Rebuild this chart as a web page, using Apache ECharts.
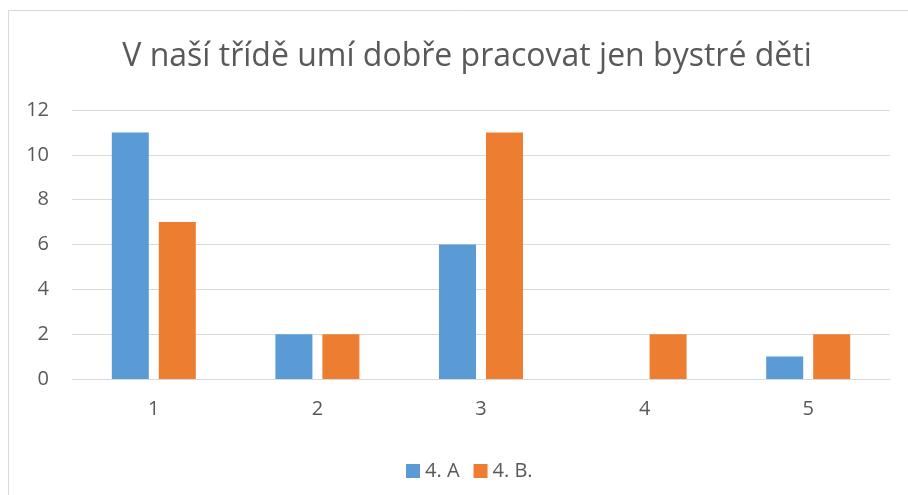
<!DOCTYPE html>
<html><head><meta charset="utf-8">
<script src="https://cdn.jsdelivr.net/npm/echarts@6/dist/echarts.min.js"></script>
<style>html,body{margin:0;padding:0;background:#fff}#c{width:908px;height:495px}</style>
</head><body><div id="c"></div>
<script>
var categories = ['1', '2', '3', '4', '5'];
var seriesA = [11, 2, 6, 0, 1];
var seriesB = [7, 2, 11, 2, 2];
var yTicks = [0, 2, 4, 6, 8, 10, 12];
var titleText = 'V naší třídě umí dobře pracovat jen bystré děti';
var names = ['4. A', '4. B.'];

var font = '"Open Sans", "Liberation Sans", sans-serif';
var chart = echarts.init(document.getElementById('c'));
chart.setOption({
  animation: false,
  graphic: [{type: 'rect', shape: {x: 8.5, y: 10.5, width: 1000, height: 1000}, style: {fill: 'none', stroke: '#d9d9d9', lineWidth: 1}, z: -1}],
  title: {text: titleText, left: 462, top: 36, textAlign: 'center',
    textStyle: {fontFamily: font, fontSize: 32, fontWeight: 'normal', color: '#595959'}},
  legend: {left: 401, top: 456, itemWidth: 14, itemHeight: 14, itemGap: 14, icon: 'rect',
    textStyle: {fontFamily: font, fontSize: 20, color: '#595959'}, data: names},
  grid: {left: 72, right: 18, top: 110, bottom: 116, containLabel: false},
  xAxis: {type: 'category', data: categories,
    axisLine: {lineStyle: {color: '#d9d9d9', width: 1}}, axisTick: {show: false},
    axisLabel: {fontFamily: font, fontSize: 20, color: '#595959', margin: 20}},
  yAxis: {type: 'value', min: yTicks[0], max: yTicks[yTicks.length-1], interval: 2,
    axisLine: {show: false}, axisTick: {show: false},
    splitLine: {lineStyle: {color: '#d9d9d9', width: 1}},
    axisLabel: {fontFamily: font, fontSize: 20, color: '#595959', margin: 23}},
  series: [
    {name: names[0], type: 'bar', data: seriesA, barWidth: 37, barGap: '27%', itemStyle: {color: '#5B9BD5'}},
    {name: names[1], type: 'bar', data: seriesB, barWidth: 37, barGap: '27%', itemStyle: {color: '#ED7D31'}}
  ]
});
</script></body></html>
